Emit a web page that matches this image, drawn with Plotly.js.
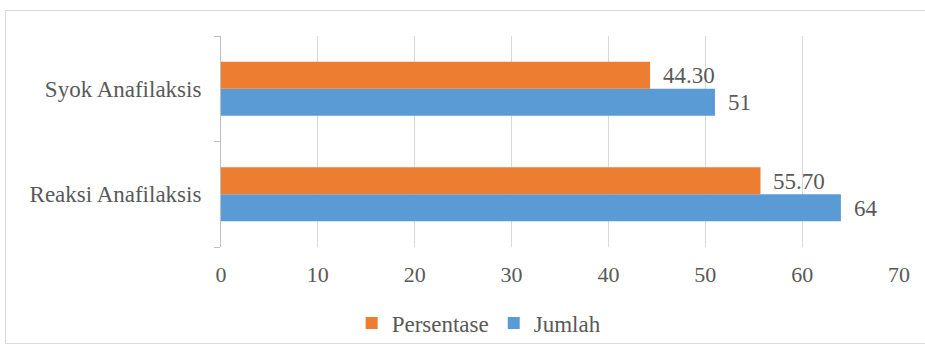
<!DOCTYPE html>
<html>
<head>
<meta charset="utf-8">
<script src="https://cdn.plot.ly/plotly-3.0.1.min.js"></script>
<style>
html,body{margin:0;padding:0;background:#fff;}
#wrap{position:relative;width:925px;height:350px;overflow:hidden;}
#frame{position:absolute;left:5px;top:10px;width:930px;height:334px;border:1px solid #d9d9d9;box-sizing:border-box;}
#chart{position:absolute;left:0;top:0;width:925px;height:350px;}
#chart text{font-family:'Liberation Serif' !important;}
</style>
</head>
<body>
<div id="wrap"><div id="frame"></div><div id="chart"></div></div>
<script>
const categories = ['Reaksi Anafilaksis', 'Syok Anafilaksis'];
const jumlah = [64, 51];
const persentase = [55.70, 44.30];
const jumlahLabels = ['64', '51'];
const persentaseLabels = ['55.70', '44.30'];
const xTicks = [0, 10, 20, 30, 40, 50, 60, 70];

const fontFam = "'Liberation Serif'";
const textColor = '#595959';

const traces = [
  {type:'bar', orientation:'h', name:'Jumlah', y:categories, x:jumlah,
   marker:{color:'#5B9BD5'}, hoverinfo:'none'},
  {type:'bar', orientation:'h', name:'Persentase', y:categories, x:persentase,
   marker:{color:'#ED7D31'}, hoverinfo:'none'}
];

const annotations = [];
function addLabels(vals, labels, offset) {
  vals.forEach((v, i) => {
    annotations.push({x:v, y:categories[i], yshift:offset, text:labels[i], showarrow:false,
      xanchor:'left', xshift:11, font:{family:fontFam, size:23, color:textColor}});
  });
}
addLabels(jumlah, jumlahLabels, -14);
addLabels(persentase, persentaseLabels, 13);

const layout = {
  width:925, height:350,
  margin:{l:221, r:26, t:36, b:103, autoexpand:false},
  paper_bgcolor:'rgba(0,0,0,0)', plot_bgcolor:'rgba(0,0,0,0)',
  barmode:'group', bargap:0.488, bargroupgap:0,
  font:{family:fontFam, color:textColor, size:23},
  showlegend:true,
  legend:{orientation:'h', xref:'container', yref:'container', x:0.518, xanchor:'center',
    y:0.077, yanchor:'middle',
    traceorder:'reversed', font:{family:fontFam, size:23, color:textColor}, itemwidth:30},
  xaxis:{range:[0,70], tickvals:xTicks, showgrid:true, gridcolor:'#d9d9d9', gridwidth:1,
    zeroline:false, showline:false, ticks:'', ticklabelstandoff:12, automargin:false,
    tickfont:{family:fontFam, size:22, color:textColor}, fixedrange:true},
  yaxis:{type:'category', categoryorder:'array', categoryarray:categories,
    showgrid:false, zeroline:false, showline:true, linecolor:'#bfbfbf', linewidth:1,
    ticks:'outside', tickson:'boundaries', ticklen:6, tickcolor:'#bfbfbf', automargin:false,
    ticklabelstandoff:14, tickfont:{family:fontFam, size:23, color:textColor}, fixedrange:true},
  annotations:annotations
};

Plotly.newPlot('chart', traces, layout, {displayModeBar:false, staticPlot:true});
</script>
</body>
</html>
